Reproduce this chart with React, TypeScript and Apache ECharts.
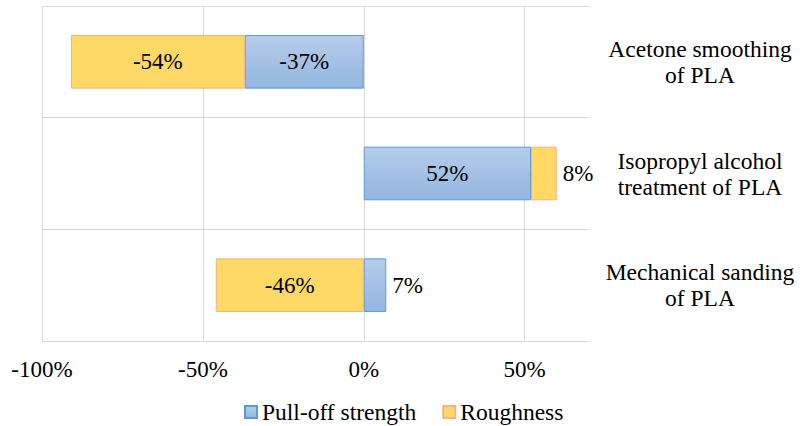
import React, { useEffect, useRef } from "react";
import * as echarts from "echarts";

const categories = [
  "Acetone smoothing\nof PLA",
  "Isopropyl alcohol\ntreatment of PLA",
  "Mechanical sanding\nof PLA",
];
const pullOffStrength = [-37, 52, 7];
const roughness = [-54, 8, -46];
const seriesNames = ["Pull-off strength", "Roughness"];
const xMin = -100;
const xMax = 70;
const xInterval = 50;

const FONT = "Liberation Serif, Times New Roman, serif";

export default function App() {
  const ref = useRef<HTMLDivElement>(null);
  useEffect(() => {
    document.body.style.margin = "0";
    if (!ref.current) return;
    const chart = echarts.init(ref.current, null, { renderer: "svg" });
    const labelFor = (v: number) =>
      Math.abs(v) < 10
        ? { show: true, position: "right", distance: 6 }
        : { show: true, position: "inside" };
    const blue = new echarts.graphic.LinearGradient(0, 0, 0, 1, [
      { offset: 0, color: "#B5CDEA" },
      { offset: 1, color: "#93B6E0" },
    ]);
    const option: any = {
      animation: false,
      backgroundColor: "#ffffff",
      textStyle: { fontFamily: FONT },
      grid: { left: 42, right: 212, top: 6, bottom: 85, containLabel: false },
      legend: {
        data: seriesNames,
        left: 244,
        top: 400,
        padding: 0,
        icon: "rect",
        itemWidth: 12,
        itemHeight: 12,
        itemGap: 26,
        textStyle: { fontSize: 23.5, color: "#000", fontFamily: FONT },
      },
      xAxis: {
        type: "value",
        min: xMin,
        max: xMax,
        interval: xInterval,
        axisLine: { show: false },
        axisTick: { show: false },
        splitLine: {
          show: true,
          showMaxLine: false,
          lineStyle: { color: "#D9D9D9", width: 1 },
        },
        axisLabel: {
          showMaxLabel: false,
          formatter: (v: number) => (v === xMax ? "" : `${v}%`),
          fontSize: 23,
          color: "#000",
          fontFamily: FONT,
          margin: 17,
        },
      },
      yAxis: {
        type: "category",
        data: categories,
        inverse: true,
        position: "right",
        axisLine: { show: false },
        axisTick: { show: false },
        splitLine: { show: true, lineStyle: { color: "#D9D9D9", width: 1 } },
        axisLabel: {
          align: "center",
          margin: 111,
          fontSize: 23.5,
          lineHeight: 26,
          padding: [5, 0, 0, 0],
          color: "#000",
          fontFamily: FONT,
        },
      },
      series: [
        {
          name: seriesNames[0],
          type: "bar",
          stack: "total",
          barWidth: "48%",
          itemStyle: { color: blue, borderColor: "#5B9BD5", borderWidth: 1 },
          label: {
            formatter: "{c}%",
            fontSize: 23,
            color: "#000",
            fontFamily: FONT,
          },
          data: pullOffStrength.map((v) => ({ value: v, label: labelFor(v) })),
        },
        {
          name: seriesNames[1],
          type: "bar",
          stack: "total",
          barWidth: "48%",
          itemStyle: { color: "#FFD966", borderColor: "#F4B183", borderWidth: 1 },
          label: {
            formatter: "{c}%",
            fontSize: 23,
            color: "#000",
            fontFamily: FONT,
          },
          data: roughness.map((v) => ({ value: v, label: labelFor(v) })),
        },
      ],
    };
    chart.setOption(option);
    return () => chart.dispose();
  }, []);
  return <div ref={ref} style={{ width: 801, height: 426 }} />;
}
